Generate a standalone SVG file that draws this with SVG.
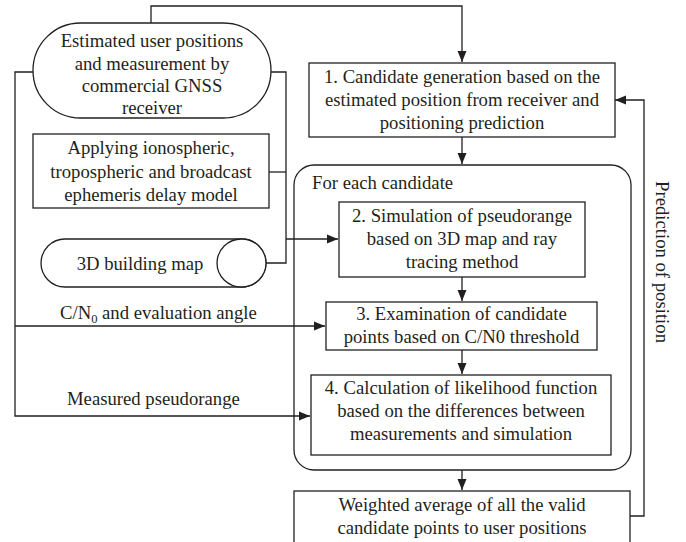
<svg xmlns="http://www.w3.org/2000/svg" width="686" height="542" viewBox="0 0 686 542">
<style>
.b{fill:#fff;stroke:#231f20;stroke-width:1.3}
.c{fill:none;stroke:#231f20;stroke-width:1.3}
.t{font-family:"Liberation Serif","Times New Roman",serif;font-size:18.7px;fill:#231f20}
.m{text-anchor:middle}
</style>
<defs>
<marker id="ar" markerUnits="userSpaceOnUse" markerWidth="12" markerHeight="10" refX="11" refY="5" orient="auto">
<path d="M0,0.5 L11,5 L0,9.5 Z" fill="#231f20"/>
</marker>
</defs>
<rect width="686" height="542" fill="#fff"/>
<g id="connectors">
<path class="c" d="M151,23 V6 H462 V62" marker-end="url(#ar)"/>
<path class="c" d="M462,137 V164" marker-end="url(#ar)"/>
<path class="c" d="M33,72 H15 V416 H310" marker-end="url(#ar)"/>
<path class="c" d="M15,326 H325" marker-end="url(#ar)"/>
<path class="c" d="M271,72 H286 V263 H266"/>
<path class="c" d="M269,172 H286"/>
<path class="c" d="M286,239 H338" stroke-width="2.2" marker-end="url(#ar)"/>
<path class="c" d="M462,277 V301" marker-end="url(#ar)"/>
<path class="c" d="M462,350 V374" marker-end="url(#ar)"/>
<path class="c" d="M462,470 V490" marker-end="url(#ar)"/>
<path class="c" d="M630,516 H644 V100 H615" marker-end="url(#ar)"/>
</g>
<g id="loop">
<rect class="c" x="294" y="165" width="337" height="305" rx="20"/>
<text class="t" x="312" y="189">For each candidate</text>
</g>
<g id="receiver">
<rect class="b" x="33" y="23" width="238" height="95" rx="47.5"/>
<text class="t m" x="152" y="47">Estimated user positions</text>
<text class="t m" x="152" y="70">and measurement by</text>
<text class="t m" x="152" y="92">commercial GNSS</text>
<text class="t m" x="152" y="114">receiver</text>
</g>
<g id="delay">
<rect class="b" x="33" y="134" width="236" height="74"/>
<text class="t m" x="151" y="154">Applying ionospheric,</text>
<text class="t m" x="151" y="178">tropospheric and broadcast</text>
<text class="t m" x="151" y="201">ephemeris delay model</text>
</g>
<g id="map">
<path class="b" d="M65,239 H241.5 A24.5,24 0 0 1 241.5,287 H65 A24,24 0 0 1 65,239 Z"/>
<ellipse class="b" cx="241.5" cy="263" rx="24.5" ry="24"/>
<text class="t m" x="140" y="270">3D building map</text>
</g>
<g id="step1">
<rect class="b" x="309" y="63" width="306" height="74"/>
<text class="t m" x="462" y="83">1. Candidate generation based on the</text>
<text class="t m" x="462" y="106">estimated position from receiver and</text>
<text class="t m" x="462" y="129">positioning prediction</text>
</g>
<g id="step2">
<rect class="b" x="339" y="202" width="246" height="75"/>
<text class="t m" x="462" y="222">2. Simulation of pseudorange</text>
<text class="t m" x="462" y="245">based on 3D map and ray</text>
<text class="t m" x="462" y="268">tracing method</text>
</g>
<g id="step3">
<rect class="b" x="326" y="302" width="271" height="48"/>
<text class="t m" x="461.5" y="320">3. Examination of candidate</text>
<text class="t m" x="461.5" y="343">points based on C/N0 threshold</text>
</g>
<g id="step4">
<rect class="b" x="311" y="375" width="300" height="80"/>
<text class="t m" x="461" y="394">4. Calculation of likelihood function</text>
<text class="t m" x="461" y="417">based on the differences between</text>
<text class="t m" x="461" y="440">measurements and simulation</text>
</g>
<g id="result">
<rect class="b" x="294" y="491" width="336" height="60"/>
<text class="t m" x="462" y="511">Weighted average of all the valid</text>
<text class="t m" x="462" y="534">candidate points to user positions</text>
</g>
<g id="labels">
<text class="t" x="60" y="319">C/N<tspan font-size="12.5" dy="4">0</tspan><tspan dy="-4"> and evaluation angle</tspan></text>
<text class="t" x="67" y="405">Measured pseudorange</text>
<text class="t m" transform="translate(656,262) rotate(90)">Prediction of position</text>
</g>
</svg>
